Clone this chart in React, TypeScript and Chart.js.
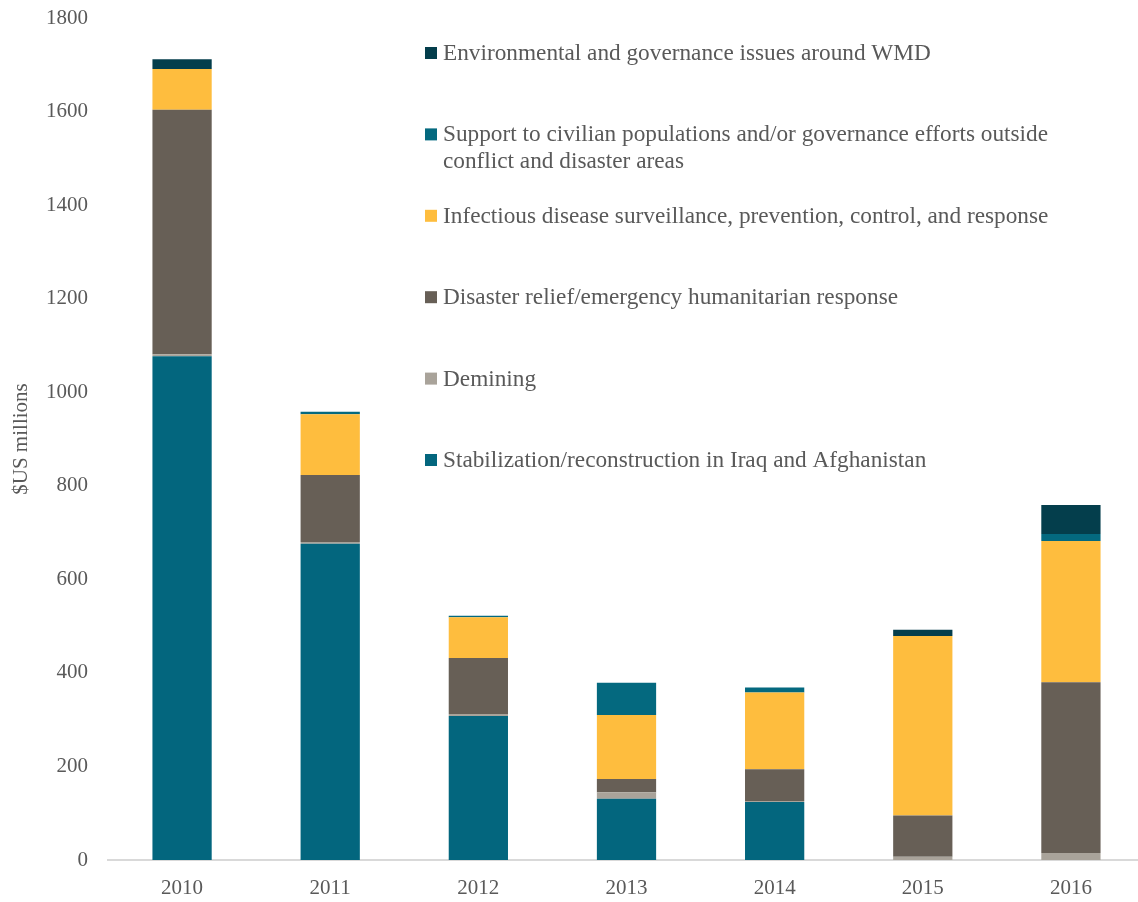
import React, { useEffect, useRef } from "react";
import { Chart, registerables } from "chart.js";

Chart.register(...registerables);

const FAMILY = "'Liberation Serif', 'DejaVu Serif', serif";
const TEXT_COLOR = "#595959";

const years = ["2010", "2011", "2012", "2013", "2014", "2015", "2016"];
const yTicks = [0, 200, 400, 600, 800, 1000, 1200, 1400, 1600, 1800];

const stabilization = [1077, 676, 308, 131, 124, 0, 0];
const demining = [4, 4, 4, 14, 2, 7, 15];
const disasterRelief = [523, 143, 120, 28, 68, 88, 365];
const infectiousDisease = [87, 130, 87, 137, 164, 384, 302];
const civilianSupport = [0, 5, 3, 69, 11, 0, 15];
const environmentalWMD = [21, 0, 0, 0, 0, 13, 62];

const seriesNames = [
  "Stabilization/reconstruction in Iraq and Afghanistan",
  "Demining",
  "Disaster relief/emergency humanitarian response",
  "Infectious disease surveillance, prevention, control, and response",
  "Support to civilian populations and/or governance efforts outside conflict and disaster areas",
  "Environmental and governance issues around WMD",
];
const seriesColors = ["#03667E", "#A9A39A", "#675F56", "#FEBD3E", "#04697F", "#043E4C"];

// legend lines (top to bottom), in reverse stack order
const legendLines: string[][] = [
  ["Environmental and governance issues around WMD"],
  ["Support to civilian populations and/or governance efforts outside", "conflict and disaster areas"],
  ["Infectious disease surveillance, prevention, control, and response"],
  ["Disaster relief/emergency humanitarian response"],
  ["Demining"],
  ["Stabilization/reconstruction in Iraq and Afghanistan"],
];

const legendPlugin = {
  id: "customLegend",
  afterDraw(chart: any) {
    const ctx = chart.ctx as CanvasRenderingContext2D;
    ctx.save();
    ctx.font = `20px ${FAMILY}`;
    const w = ctx.measureText(legendLines[0][0]).width;
    const size = (20 * 488) / w;
    ctx.font = `${size}px ${FAMILY}`;
    ctx.textBaseline = "alphabetic";
    ctx.textAlign = "left";
    const firstBaseline = 60;
    const step = 81.4;
    const lineH = 27;
    const n = seriesColors.length;
    legendLines.forEach((lines, i) => {
      const base = firstBaseline + i * step;
      const colorIdx = n - 1 - i;
      ctx.fillStyle = seriesColors[colorIdx];
      ctx.fillRect(425, base - 13, 12, 12);
      ctx.fillStyle = TEXT_COLOR;
      lines.forEach((ln, j) => {
        ctx.fillText(ln, 443, base + j * lineH);
      });
    });
    ctx.restore();
  },
};

export default function App() {
  const canvasRef = useRef<HTMLCanvasElement | null>(null);

  useEffect(() => {
    if (!canvasRef.current) return;
    const values = [stabilization, demining, disasterRelief, infectiousDisease, civilianSupport, environmentalWMD];
    const chart = new Chart(canvasRef.current, {
      type: "bar",
      data: {
        labels: years,
        datasets: values.map((v, i) => ({
          label: seriesNames[i],
          data: v,
          backgroundColor: seriesColors[i],
          borderWidth: 0,
          categoryPercentage: 1,
          barPercentage: 0.4,
        })),
      },
      options: {
        animation: false,
        responsive: true,
        maintainAspectRatio: false,
        layout: { padding: { top: 18, right: 1, bottom: 0, left: 0 } },
        plugins: {
          legend: { display: false },
          tooltip: { enabled: false },
        },
        scales: {
          x: {
            stacked: true,
            grid: { display: false, drawTicks: false },
            border: { display: true, color: "#D9D9D9", width: 2 },
            ticks: {
              color: TEXT_COLOR,
              font: { family: FAMILY, size: 21 },
              padding: 16,
            },
            afterFit(scale: any) {
              scale.height = 42;
            },
          },
          y: {
            stacked: true,
            min: 0,
            max: 1800,
            grid: { display: false, drawTicks: false },
            border: { display: false },
            afterBuildTicks(scale: any) {
              scale.ticks = yTicks.map((v) => ({ value: v }));
            },
            ticks: {
              color: TEXT_COLOR,
              font: { family: FAMILY, size: 21 },
              padding: 20,
              callback: (v: any) => String(v),
            },
            title: {
              display: true,
              text: "$US millions",
              color: TEXT_COLOR,
              font: { family: FAMILY, size: 21 },
              padding: { top: 9, bottom: 0 },
            },
            afterFit(scale: any) {
              scale.width = 108;
              scale.paddingTop = 0;
              scale.paddingBottom = 0;
            },
          },
        },
      },
      plugins: [legendPlugin],
    });
    return () => chart.destroy();
  }, []);

  return (
    <div style={{ position: "absolute", left: 0, top: 0, width: 1138, height: 902, overflow: "hidden", background: "#fff" }}>
      <div style={{ position: "relative", width: 1146, height: 902 }}>
        <canvas ref={canvasRef} />
      </div>
    </div>
  );
}
